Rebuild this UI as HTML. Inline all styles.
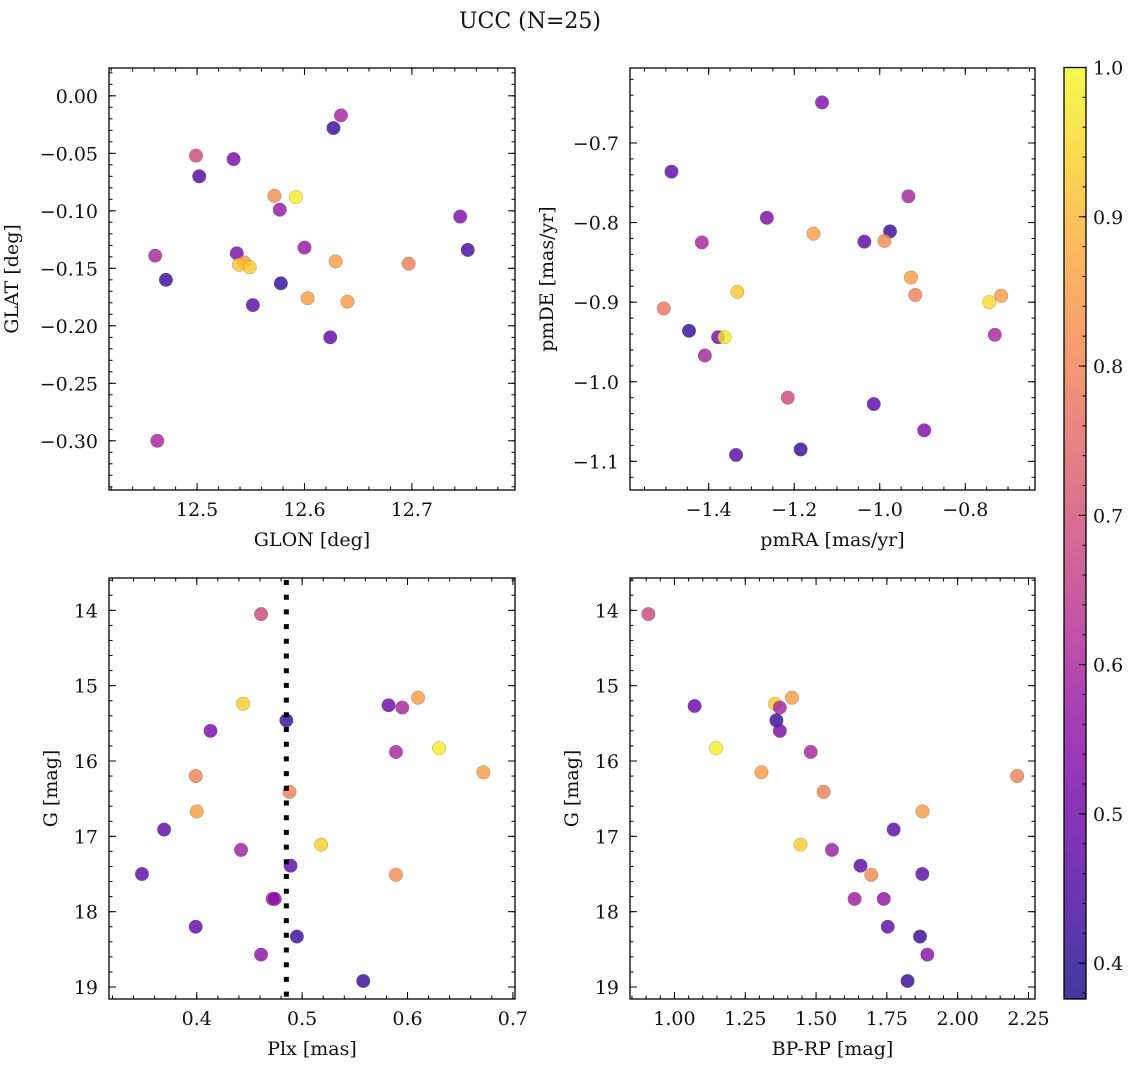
<!DOCTYPE html>
<html><head><meta charset="utf-8"><style>
html,body{margin:0;padding:0;background:#fff;}
svg text{font-family:"DejaVu Serif","Liberation Serif",serif;fill:#111;}
</style></head><body>
<svg id="fig" width="1136" height="1067" viewBox="0 0 1136 1067" xmlns="http://www.w3.org/2000/svg">
<defs>
<linearGradient id="plasma" x1="0" y1="1" x2="0" y2="0">
<stop offset="0" stop-color="#0d0887"/><stop offset="0.1" stop-color="#41049d"/><stop offset="0.2" stop-color="#6a00a8"/><stop offset="0.3" stop-color="#8f0da4"/><stop offset="0.4" stop-color="#b12a90"/><stop offset="0.5" stop-color="#cc4778"/><stop offset="0.6" stop-color="#e16462"/><stop offset="0.7" stop-color="#f2844b"/><stop offset="0.8" stop-color="#fca636"/><stop offset="0.9" stop-color="#fcce25"/><stop offset="1" stop-color="#f0f921"/>
</linearGradient>
</defs>
<text x="530" y="28" font-size="22" text-anchor="middle">UCC (N=25)</text>
</svg>
<script>
// ---- data ----
const glon = [12.634,12.627,12.499,12.534,12.502,12.572,12.592,12.577,12.745,12.600,12.752,12.461,12.537,12.544,12.539,12.549,12.629,12.697,12.471,12.578,12.603,12.640,12.552,12.624,12.463];
const glat = [-0.017,-0.028,-0.052,-0.055,-0.070,-0.087,-0.088,-0.099,-0.105,-0.132,-0.134,-0.139,-0.137,-0.145,-0.147,-0.149,-0.144,-0.146,-0.160,-0.163,-0.176,-0.179,-0.182,-0.210,-0.300];
const probTL = [0.60,0.42,0.68,0.52,0.45,0.82,0.98,0.57,0.53,0.57,0.44,0.60,0.53,0.85,0.92,0.93,0.85,0.80,0.42,0.42,0.85,0.85,0.47,0.48,0.60];

const pmra = [-1.135,-1.487,-1.264,-0.933,-0.976,-1.036,-1.155,-0.989,-1.416,-0.927,-1.333,-0.917,-0.744,-0.716,-1.505,-1.446,-1.378,-1.363,-0.731,-1.409,-1.215,-1.014,-0.896,-1.185,-1.336];
const pmde = [-0.649,-0.736,-0.794,-0.767,-0.811,-0.824,-0.814,-0.823,-0.825,-0.869,-0.887,-0.891,-0.900,-0.892,-0.908,-0.936,-0.944,-0.944,-0.941,-0.967,-1.020,-1.028,-1.061,-1.085,-1.092];
const probTR = [0.53,0.47,0.53,0.60,0.42,0.47,0.85,0.82,0.60,0.85,0.92,0.80,0.95,0.85,0.78,0.42,0.52,0.98,0.60,0.60,0.68,0.47,0.53,0.42,0.47];

const plx = [0.461,0.444,0.485,0.413,0.582,0.595,0.610,0.589,0.630,0.672,0.399,0.488,0.400,0.369,0.518,0.442,0.489,0.348,0.589,0.472,0.474,0.399,0.495,0.461,0.558];
const gmagL = [14.05,15.24,15.46,15.60,15.26,15.29,15.16,15.88,15.83,16.15,16.20,16.41,16.67,16.91,17.11,17.18,17.39,17.50,17.51,17.83,17.83,18.20,18.33,18.57,18.92];
const probBL = [0.68,0.93,0.42,0.52,0.50,0.60,0.85,0.60,0.98,0.85,0.80,0.80,0.85,0.47,0.93,0.58,0.47,0.47,0.82,0.58,0.55,0.48,0.42,0.55,0.42];

const bprp = [0.908,1.071,1.355,1.372,1.415,1.360,1.372,1.481,1.147,1.307,2.210,1.527,1.876,1.774,1.445,1.556,1.657,1.875,1.695,1.636,1.739,1.753,1.867,1.893,1.823];
const gmagR = [14.05,15.27,15.24,15.29,15.16,15.46,15.60,15.88,15.83,16.15,16.20,16.41,16.67,16.91,17.11,17.18,17.39,17.50,17.51,17.83,17.83,18.20,18.33,18.57,18.92];
const probBR = [0.68,0.50,0.93,0.60,0.85,0.42,0.52,0.60,0.98,0.85,0.80,0.80,0.85,0.47,0.93,0.58,0.47,0.47,0.82,0.58,0.55,0.48,0.42,0.55,0.42];

const plxLine = [0.485];
const cbTicks = [0.4,0.5,0.6,0.7,0.8,0.9,1.0];
const vmin = 0.376, vmax = 1.0;

// ---- helpers ----
const NS = "http://www.w3.org/2000/svg";
const svg = document.getElementById('fig');
function mk(tag, attrs, parent){
  const e = document.createElementNS(NS, tag);
  for (const k in attrs) e.setAttribute(k, attrs[k]);
  (parent||svg).appendChild(e);
  return e;
}
const stops = [[13,8,135],[65,4,157],[106,0,168],[143,13,164],[177,42,144],[204,71,120],[225,100,98],[242,132,75],[252,166,54],[252,206,37],[240,249,33]];
function plasma(v){
  let t = (v - vmin)/(vmax - vmin); t = Math.max(0, Math.min(1, t));
  const f = t*10, i = Math.min(9, Math.floor(f)), r = f - i;
  const a = stops[i], b = stops[i+1];
  return 'rgb(' + [0,1,2].map(k => Math.round(a[k] + (b[k]-a[k])*r)).join(',') + ')';
}
function fmt(v, d){ const s = Math.abs(v).toFixed(d); return (v < -1e-9 ? '\u2212' : '') + s; }

const FS = 19;
function panel(cfg){
  const {name, L, T, W, H, xmin, xmax, ymin, ymax, invertY, xs, ys, ps, xMaj, xMin, yMaj, yMin, xd, yd, xlabel, ylabel, ylabelX, yTickX} = cfg;
  const g = mk('g', {});
  
  
  const sx = v => L + (v - xmin)/(xmax - xmin)*W;
  const sy = v => invertY ? T + (v - ymin)/(ymax - ymin)*H : T + (ymax - v)/(ymax - ymin)*H;
  const tg = mk('g', {stroke:'#000', 'stroke-width':1}, g);
  
  
  const eps = 1e-9;
  function xt(list, len){ list.forEach(v => { if (v < Math.min(xmin,xmax)-eps || v > Math.max(xmin,xmax)+eps) return; const x = sx(v);
    mk('line', {x1:x, x2:x, y1:T+H, y2:T+H-len}, tg); mk('line', {x1:x, x2:x, y1:T, y2:T+len}, tg); }); }
  function yt(list, len){ list.forEach(v => { const lo = Math.min(ymin,ymax), hi = Math.max(ymin,ymax); if (v < lo-eps || v > hi+eps) return; const y = sy(v);
    mk('line', {x1:L, x2:L+len, y1:y, y2:y}, tg); mk('line', {x1:L+W, x2:L+W-len, y1:y, y2:y}, tg); }); }
  xt(xMin, 3.5); xt(xMaj, 7); yt(yMin, 3.5); yt(yMaj, 7);
  xMaj.forEach(v => { const t = mk('text', {x:sx(v), y:T+H+26, 'font-size':FS, 'text-anchor':'middle'}, g); t.textContent = fmt(v, xd);
      });
  yMaj.forEach(v => { const t = mk('text', {x:yTickX, y:sy(v)+7, 'font-size':FS, 'text-anchor':'end'}, g); t.textContent = fmt(v, yd);
      });
  const xl = mk('text', {x:L+W/2, y:T+H+56, 'font-size':FS, 'text-anchor':'middle'}, g); xl.textContent = xlabel;
   
  const yl = mk('text', {x:ylabelX, y:T+H/2, 'font-size':FS, 'text-anchor':'middle', transform:'rotate(-90 '+ylabelX+' '+(T+H/2)+')'}, g); yl.textContent = ylabel;
   
  const pg = mk('g', {}, g);
  
  
  xs.forEach((xv, i) => {
    const c = mk('circle', {cx:sx(xv), cy:sy(ys[i]), r:6.8, fill:plasma(ps[i]), 'fill-opacity':0.8, stroke:'#555', 'stroke-opacity':0.6, 'stroke-width':0.4}, pg);
    
    
  });
  const fr = mk('rect', {x:L, y:T, width:W, height:H, fill:'none', stroke:'#000', 'stroke-width':1.3}, g);
  
  
  return {sx, sy, g};
}
function range(a, b, s){ const out = []; const n = Math.round((b-a)/s); for (let i=0;i<=n;i++) out.push(+(a + i*s).toFixed(6)); return out; }

panel({name:'glon-glat-panel', L:109, T:68, W:406, H:422, xmin:12.418, xmax:12.796, ymin:-0.3428, ymax:0.0242, invertY:false,
  xs:glon, ys:glat, ps:probTL, xMaj:[12.5,12.6,12.7], xMin:range(12.42,12.78,0.02), yMaj:range(-0.30,0.0,0.05), yMin:range(-0.34,0.02,0.01),
  xd:1, yd:2, xlabel:'GLON [deg]', ylabel:'GLAT [deg]', ylabelX:18, yTickX:98});

panel({name:'pm-panel', L:630, T:68, W:405, H:422, xmin:-1.584, xmax:-0.637, ymin:-1.136, ymax:-0.6058, invertY:false,
  xs:pmra, ys:pmde, ps:probTR, xMaj:[-1.4,-1.2,-1.0,-0.8], xMin:range(-1.55,-0.65,0.05), yMaj:[-1.1,-1.0,-0.9,-0.8,-0.7], yMin:range(-1.12,-0.62,0.02),
  xd:1, yd:1, xlabel:'pmRA [mas/yr]', ylabel:'pmDE [mas/yr]', ylabelX:553, yTickX:619});

const bl = panel({name:'plx-g-panel', L:109, T:578, W:406, H:421, xmin:0.3167, xmax:0.702, ymin:13.571, ymax:19.159, invertY:true,
  xs:plx, ys:gmagL, ps:probBL, xMaj:[0.4,0.5,0.6,0.7], xMin:range(0.32,0.70,0.02), yMaj:[14,15,16,17,18,19], yMin:range(13.6,19.0,0.2),
  xd:1, yd:0, xlabel:'Plx [mas]', ylabel:'G [mag]', ylabelX:57, yTickX:98});
plxLine.forEach(v => {
  const ln = mk('line', {x1:bl.sx(v), x2:bl.sx(v), y1:580, y2:999, stroke:'#000', 'stroke-width':5, 'stroke-dasharray':'5 9.7'}, bl.g);
  
  
});

panel({name:'cmd-panel', L:630, T:578, W:405, H:421, xmin:0.843, xmax:2.273, ymin:13.571, ymax:19.159, invertY:true,
  xs:bprp, ys:gmagR, ps:probBR, xMaj:[1.0,1.25,1.5,1.75,2.0,2.25], xMin:range(0.85,2.25,0.05), yMaj:[14,15,16,17,18,19], yMin:range(13.6,19.0,0.2),
  xd:2, yd:0, xlabel:'BP-RP [mag]', ylabel:'G [mag]', ylabelX:578, yTickX:619});

const cb = mk('g', {});


const cbL = 1064, cbT = 67.5, cbW = 22, cbH = 931.5;
const cy = v => cbT + (vmax - v)/(vmax - vmin)*cbH;
mk('rect', {x:cbL, y:cbT, width:cbW, height:cbH, fill:'url(#plasma)', 'fill-opacity':0.8}, cb);
range(0.38, 1.0, 0.02).forEach(v => { mk('line', {x1:cbL+cbW, x2:cbL+cbW-3.5, y1:cy(v), y2:cy(v), stroke:'#000', 'stroke-width':1}, cb); });
cbTicks.forEach(v => {
  mk('line', {x1:cbL+cbW, x2:cbL+cbW-7, y1:cy(v), y2:cy(v), stroke:'#000', 'stroke-width':1}, cb);
  const t = mk('text', {x:1093, y:cy(v)+7, 'font-size':FS}, cb); t.textContent = v.toFixed(1);
  
  
});
mk('rect', {x:cbL, y:cbT, width:cbW, height:cbH, fill:'none', stroke:'#000', 'stroke-width':1.3}, cb);
</script>
</body></html>
